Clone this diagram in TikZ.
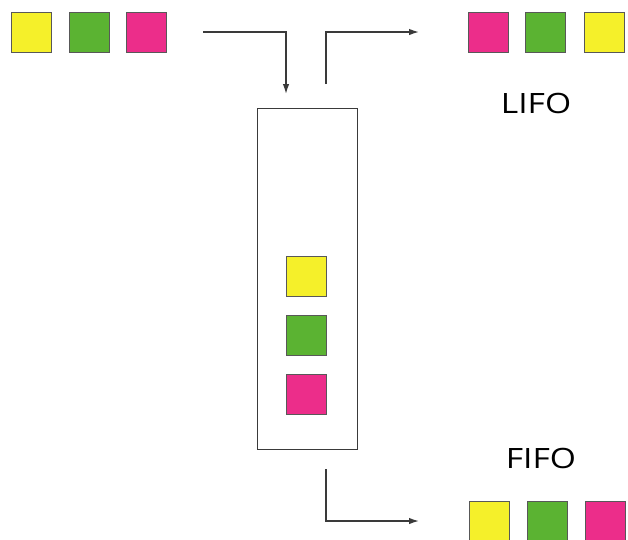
\documentclass[tikz,border=0pt]{standalone}
\usepackage{fontspec}
\setmainfont{Open Sans}
\usetikzlibrary{arrows.meta}
\definecolor{qyellow}{HTML}{F5F02A}
\definecolor{qgreen}{HTML}{5BB332}
\definecolor{qpink}{HTML}{EC2D8A}
\definecolor{qline}{HTML}{3A3A3A}
\begin{document}
\begin{tikzpicture}[x=1pt,y=-1pt,
  sq/.style={draw=qline!85, line width=0.8pt, minimum width=40pt, minimum height=40pt, inner sep=0pt, anchor=north west},
  stackbox/.style={draw=qline, line width=1.4pt, minimum width=100pt, minimum height=341pt, inner sep=0pt, anchor=north west},
  conn/.style={draw=qline, line width=1.4pt},
  arr/.style={conn, -{Latex[length=10pt,width=6.5pt]}},
  lab/.style={font=\fontsize{28}{32}\selectfont, text=black, inner sep=0pt, xscale=1.2}]
\useasboundingbox (0,0) rectangle (628,539);
% input squares
\node[sq, fill=qyellow] (iny) at (11,12) {};
\node[sq, fill=qgreen]  (ing) at (69,12) {};
\node[sq, fill=qpink]   (inp) at (126,12) {};
% LIFO output squares
\node[sq, fill=qpink]   (lp) at (468,12) {};
\node[sq, fill=qgreen]  (lg) at (525,12) {};
\node[sq, fill=qyellow] (ly) at (584,12) {};
\node[lab] (lifo) at (536,103) {LIFO};
% stack
\node[stackbox] (stack) at (257,108) {};
\node[sq, fill=qyellow] (sy) at (286,256) {};
\node[sq, fill=qgreen]  (sg) at (286,315) {};
\node[sq, fill=qpink]   (sp) at (286,374) {};
% FIFO output
\node[lab] (fifo) at (541,458) {FIFO};
\node[sq, fill=qyellow] (fy) at (469,501) {};
\node[sq, fill=qgreen]  (fg) at (527,501) {};
\node[sq, fill=qpink]   (fp) at (585,501) {};
% connectors
\coordinate (in1) at (203,32);
\coordinate (in2) at (286,94);
\coordinate (out1) at (326,84);
\coordinate (out2) at (419,32);
\coordinate (ff1) at (326,469);
\coordinate (ff2) at (419,521);
\draw[arr] (in1) -| (in2);
\draw[arr] (out1) |- (out2);
\draw[arr] (ff1) |- (ff2);
\end{tikzpicture}
\end{document}
